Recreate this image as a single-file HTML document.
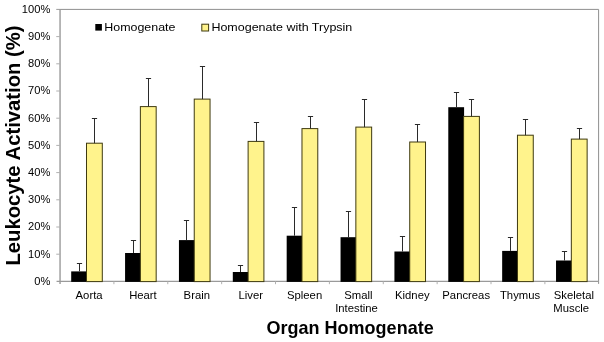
<!DOCTYPE html>
<html><head><meta charset="utf-8"><title>Leukocyte Activation</title>
<style>html,body{margin:0;padding:0;background:#fff}svg{display:block}text{font-family:"Liberation Sans",sans-serif;fill:#000}</style></head><body>
<svg width="604" height="342" viewBox="0 0 604 342">
<rect width="604" height="342" fill="#fff"/>
<path d="M60.05 9.4H598.6V283.9" fill="none" stroke="#8f8f8f" stroke-width="1"/>
<path d="M60.05 8.9V283.9" stroke="#9a9a9a" stroke-width="1.4" fill="none"/>
<path d="M56.55 281.4H598.6" stroke="#9a9a9a" stroke-width="1.1" fill="none"/>
<text transform="translate(50.30 284.85) scale(1.045 1)" font-size="10.67" text-anchor="end">0%</text>
<path d="M56.25 254.20H60.05" stroke="#b0b0b0" stroke-width="1"/>
<text transform="translate(50.30 257.65) scale(1.045 1)" font-size="10.67" text-anchor="end">10%</text>
<path d="M56.25 227.00H60.05" stroke="#b0b0b0" stroke-width="1"/>
<text transform="translate(50.30 230.45) scale(1.045 1)" font-size="10.67" text-anchor="end">20%</text>
<path d="M56.25 199.80H60.05" stroke="#b0b0b0" stroke-width="1"/>
<text transform="translate(50.30 203.25) scale(1.045 1)" font-size="10.67" text-anchor="end">30%</text>
<path d="M56.25 172.60H60.05" stroke="#b0b0b0" stroke-width="1"/>
<text transform="translate(50.30 176.05) scale(1.045 1)" font-size="10.67" text-anchor="end">40%</text>
<path d="M56.25 145.40H60.05" stroke="#b0b0b0" stroke-width="1"/>
<text transform="translate(50.30 148.85) scale(1.045 1)" font-size="10.67" text-anchor="end">50%</text>
<path d="M56.25 118.20H60.05" stroke="#b0b0b0" stroke-width="1"/>
<text transform="translate(50.30 121.65) scale(1.045 1)" font-size="10.67" text-anchor="end">60%</text>
<path d="M56.25 91.00H60.05" stroke="#b0b0b0" stroke-width="1"/>
<text transform="translate(50.30 94.45) scale(1.045 1)" font-size="10.67" text-anchor="end">70%</text>
<path d="M56.25 63.80H60.05" stroke="#b0b0b0" stroke-width="1"/>
<text transform="translate(50.30 67.25) scale(1.045 1)" font-size="10.67" text-anchor="end">80%</text>
<path d="M56.25 36.60H60.05" stroke="#b0b0b0" stroke-width="1"/>
<text transform="translate(50.30 40.05) scale(1.045 1)" font-size="10.67" text-anchor="end">90%</text>
<path d="M56.25 9.40H60.05" stroke="#9a9a9a" stroke-width="1"/>
<text transform="translate(50.30 12.85) scale(1.045 1)" font-size="10.67" text-anchor="end">100%</text>
<path d="M113.92 281.4V284.2" stroke="#b0b0b0" stroke-width="1"/>
<path d="M167.79 281.4V284.2" stroke="#b0b0b0" stroke-width="1"/>
<path d="M221.66 281.4V284.2" stroke="#b0b0b0" stroke-width="1"/>
<path d="M275.53 281.4V284.2" stroke="#b0b0b0" stroke-width="1"/>
<path d="M329.40 281.4V284.2" stroke="#b0b0b0" stroke-width="1"/>
<path d="M383.27 281.4V284.2" stroke="#b0b0b0" stroke-width="1"/>
<path d="M437.14 281.4V284.2" stroke="#b0b0b0" stroke-width="1"/>
<path d="M491.01 281.4V284.2" stroke="#b0b0b0" stroke-width="1"/>
<path d="M544.88 281.4V284.2" stroke="#b0b0b0" stroke-width="1"/>
<rect x="71.20" y="271.4" width="15.8" height="10.50" fill="#000"/>
<rect x="86.50" y="143.2" width="15.8" height="138.40" fill="#fff38c" stroke="#3f3a10" stroke-width="1"/>
<path d="M79.50 271.4V263.0M76.90 263.5H82.10" stroke="#2a2a2a" stroke-width="1" fill="none"/>
<path d="M94.50 143.2V118.0M91.90 118.5H97.10" stroke="#2a2a2a" stroke-width="1" fill="none"/>
<rect x="125.07" y="253" width="15.8" height="28.90" fill="#000"/>
<rect x="140.37" y="106.6" width="15.8" height="175.00" fill="#fff38c" stroke="#3f3a10" stroke-width="1"/>
<path d="M133.50 253V240.0M130.90 240.5H136.10" stroke="#2a2a2a" stroke-width="1" fill="none"/>
<path d="M148.50 106.6V78.0M145.90 78.5H151.10" stroke="#2a2a2a" stroke-width="1" fill="none"/>
<rect x="178.94" y="240.1" width="15.8" height="41.80" fill="#000"/>
<rect x="194.24" y="99.1" width="15.8" height="182.50" fill="#fff38c" stroke="#3f3a10" stroke-width="1"/>
<path d="M186.50 240.1V220.0M183.90 220.5H189.10" stroke="#2a2a2a" stroke-width="1" fill="none"/>
<path d="M202.50 99.1V66.0M199.90 66.5H205.10" stroke="#2a2a2a" stroke-width="1" fill="none"/>
<rect x="232.81" y="272" width="15.8" height="9.90" fill="#000"/>
<rect x="248.11" y="141.4" width="15.8" height="140.20" fill="#fff38c" stroke="#3f3a10" stroke-width="1"/>
<path d="M240.50 272V265.0M237.90 265.5H243.10" stroke="#2a2a2a" stroke-width="1" fill="none"/>
<path d="M256.50 141.4V122.0M253.90 122.5H259.10" stroke="#2a2a2a" stroke-width="1" fill="none"/>
<rect x="286.68" y="235.7" width="15.8" height="46.20" fill="#000"/>
<rect x="301.98" y="128.6" width="15.8" height="153.00" fill="#fff38c" stroke="#3f3a10" stroke-width="1"/>
<path d="M294.50 235.7V207.0M291.90 207.5H297.10" stroke="#2a2a2a" stroke-width="1" fill="none"/>
<path d="M310.50 128.6V116.0M307.90 116.5H313.10" stroke="#2a2a2a" stroke-width="1" fill="none"/>
<rect x="340.55" y="237.2" width="15.8" height="44.70" fill="#000"/>
<rect x="355.85" y="127.1" width="15.8" height="154.50" fill="#fff38c" stroke="#3f3a10" stroke-width="1"/>
<path d="M348.50 237.2V211.0M345.90 211.5H351.10" stroke="#2a2a2a" stroke-width="1" fill="none"/>
<path d="M364.50 127.1V99.0M361.90 99.5H367.10" stroke="#2a2a2a" stroke-width="1" fill="none"/>
<rect x="394.42" y="251.5" width="15.8" height="30.40" fill="#000"/>
<rect x="409.72" y="142" width="15.8" height="139.60" fill="#fff38c" stroke="#3f3a10" stroke-width="1"/>
<path d="M402.50 251.5V236.0M399.90 236.5H405.10" stroke="#2a2a2a" stroke-width="1" fill="none"/>
<path d="M417.50 142V124.0M414.90 124.5H420.10" stroke="#2a2a2a" stroke-width="1" fill="none"/>
<rect x="448.29" y="107.2" width="15.8" height="174.70" fill="#000"/>
<rect x="463.59" y="116.4" width="15.8" height="165.20" fill="#fff38c" stroke="#3f3a10" stroke-width="1"/>
<path d="M456.50 107.2V92.0M453.90 92.5H459.10" stroke="#2a2a2a" stroke-width="1" fill="none"/>
<path d="M471.50 116.4V99.0M468.90 99.5H474.10" stroke="#2a2a2a" stroke-width="1" fill="none"/>
<rect x="502.16" y="250.9" width="15.8" height="31.00" fill="#000"/>
<rect x="517.46" y="135.2" width="15.8" height="146.40" fill="#fff38c" stroke="#3f3a10" stroke-width="1"/>
<path d="M510.50 250.9V237.0M507.90 237.5H513.10" stroke="#2a2a2a" stroke-width="1" fill="none"/>
<path d="M525.50 135.2V119.0M522.90 119.5H528.10" stroke="#2a2a2a" stroke-width="1" fill="none"/>
<rect x="556.03" y="260.5" width="15.8" height="21.40" fill="#000"/>
<rect x="571.33" y="139.1" width="15.8" height="142.50" fill="#fff38c" stroke="#3f3a10" stroke-width="1"/>
<path d="M564.50 260.5V251.0M561.90 251.5H567.10" stroke="#2a2a2a" stroke-width="1" fill="none"/>
<path d="M579.50 139.1V128.0M576.90 128.5H582.10" stroke="#2a2a2a" stroke-width="1" fill="none"/>
<text transform="translate(89.08 298.60) scale(1.06 1)" font-size="10.67" text-anchor="middle">Aorta</text>
<text transform="translate(142.95 298.60) scale(1.06 1)" font-size="10.67" text-anchor="middle">Heart</text>
<text transform="translate(196.82 298.60) scale(1.06 1)" font-size="10.67" text-anchor="middle">Brain</text>
<text transform="translate(250.69 298.60) scale(1.06 1)" font-size="10.67" text-anchor="middle">Liver</text>
<text transform="translate(304.56 298.60) scale(1.06 1)" font-size="10.67" text-anchor="middle">Spleen</text>
<text transform="translate(358.44 298.60) scale(1.06 1)" font-size="10.67" text-anchor="middle">Small</text>
<text transform="translate(356.53 311.80) scale(1.06 1)" font-size="10.67" text-anchor="middle">Intestine</text>
<text transform="translate(412.31 298.60) scale(1.06 1)" font-size="10.67" text-anchor="middle">Kidney</text>
<text transform="translate(466.18 298.60) scale(1.06 1)" font-size="10.67" text-anchor="middle">Pancreas</text>
<text transform="translate(520.04 298.60) scale(1.06 1)" font-size="10.67" text-anchor="middle">Thymus</text>
<text transform="translate(573.91 298.60) scale(1.06 1)" font-size="10.67" text-anchor="middle">Skeletal</text>
<text transform="translate(571.21 311.80) scale(1.06 1)" font-size="10.67" text-anchor="middle">Muscle</text>
<rect x="95.3" y="24" width="6.6" height="6.6" fill="#000"/>
<text transform="translate(104.30 31.15) scale(1.055 1)" font-size="11.8" text-anchor="start">Homogenate</text>
<rect x="201.8" y="24.2" width="6.8" height="6.8" fill="#fff38c" stroke="#3f3a10" stroke-width="1"/>
<text transform="translate(211.40 31.15) scale(1.06 1)" font-size="11.8" text-anchor="start">Homogenate with Trypsin</text>
<text transform="translate(350.1 334) scale(1.03 1)" font-size="17.5" font-weight="bold" text-anchor="middle">Organ Homogenate</text>
<text transform="translate(19.7 145.5) rotate(-90) scale(1.045 1)" font-size="19.4" font-weight="bold" text-anchor="middle">Leukocyte Activation (%)</text>
</svg></body></html>
